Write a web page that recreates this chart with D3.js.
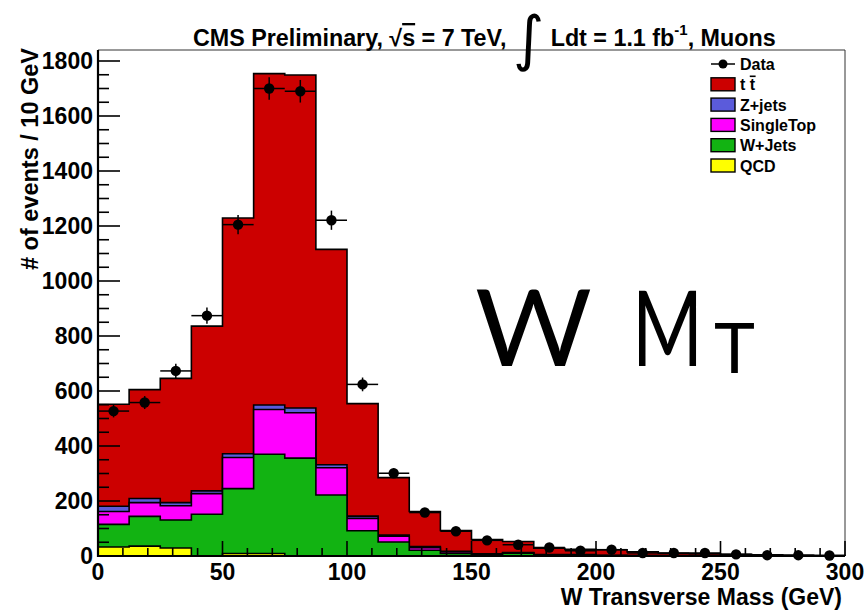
<!DOCTYPE html>
<html>
<head>
<meta charset="utf-8">
<script src="https://cdn.jsdelivr.net/npm/d3@7"></script>
<style>
  body { margin: 0; background: #fff; }
  svg { display: block; }
  text { font-family: "Liberation Sans", Arial, Helvetica, sans-serif; font-weight: bold; fill: #000; }
</style>
</head>
<body>
<svg id="chart" width="868" height="611"></svg>
<script>
// Bin edges of the W transverse mass histogram (GeV), 12.5 GeV bins
const binEdges = [0, 12.5, 25, 37.5, 50, 62.5, 75, 87.5, 100, 112.5, 125, 137.5, 150,
                  162.5, 175, 187.5, 200, 212.5, 225, 237.5, 250, 262.5, 275, 287.5, 300];

// Simulated contributions per bin (events / bin)
const qcd       = [33, 36, 29, 0, 9, 9, 0, 0, 0, 0, 0, 0, 0, 0, 0, 0, 0, 0, 0, 0, 0, 0, 0, 0];
const wJets     = [82, 108, 102, 152, 236, 361, 356, 222, 92, 51, 21, 9, 4, 10, 2, 2, 1, 1, 1, 1, 0, 0, 0, 0];
const singleTop = [47, 50, 52, 75, 113, 163, 165, 99, 45, 21, 9, 6, 3, 2, 2, 2, 1, 1, 1, 1, 1, 0, 0, 0];
const zJets     = [19, 15, 11, 10, 14, 16, 17, 11, 8, 4, 4, 2, 1, 1, 1, 1, 1, 0, 0, 0, 0, 0, 0, 0];
const ttbar     = [371, 396, 452, 599, 857, 1205, 1211, 783, 409, 209, 128, 76, 52, 40, 23, 19, 20, 13, 8, 6, 5, 4, 3, 2];

// Observed data per bin
const dataCounts = [527, 558, 673, 874, 1205, 1700, 1690, 1221, 624, 301, 158, 90, 57, 41, 31, 19, 23, 11, 11, 11, 6, 3, 3, 2];

// Axis ticks
const yMajorTicks = [0, 200, 400, 600, 800, 1000, 1200, 1400, 1600, 1800];
const xMajorTicks = [0, 50, 100, 150, 200, 250, 300];

// Stack order, bottom to top, with fill colours and legend labels
const stackKeys   = ["qcd", "wJets", "singleTop", "zJets", "ttbar"];
const stackColors = ["#ffff00", "#12b312", "#ff00ff", "#5b5bdb", "#cc0000"];
const legendLabels = ["Data", "t t", "Z+jets", "SingleTop", "W+Jets", "QCD"];

const svg = d3.select("#chart");
const frame = { left: 98, right: 845, top: 50, bottom: 556 };

const x = d3.scaleLinear().domain([0, 300]).range([frame.left, frame.right]);
const y = d3.scaleLinear().domain([0, 1840]).range([frame.bottom, frame.top]);

const rows = binEdges.slice(0, -1).map((lo, i) => ({
  lo, hi: binEdges[i + 1],
  qcd: qcd[i], wJets: wJets[i], singleTop: singleTop[i], zJets: zJets[i], ttbar: ttbar[i]
}));
const stacked = d3.stack().keys(stackKeys)(rows);

// Filled step histograms, drawn cumulatively from the total down to the bottom layer
const stepPoints = layer => {
  const pts = [{ gx: 0, v: 0 }];
  layer.forEach((d, i) => pts.push({ gx: rows[i].lo, v: d[1] }));
  pts.push({ gx: 300, v: layer[layer.length - 1][1] });
  pts.push({ gx: 300, v: 0 });
  return pts;
};
const area = d3.area().curve(d3.curveStepAfter).x(d => x(d.gx)).y0(y(0)).y1(d => y(d.v));
const line = d3.line().curve(d3.curveStepAfter).x(d => x(d.gx)).y(d => y(d.v));

const histG = svg.append("g");
for (let k = stacked.length - 1; k >= 0; k--) {
  const pts = stepPoints(stacked[k]);
  histG.append("path").attr("d", area(pts)).attr("fill", stackColors[k]);
  histG.append("path").attr("d", line(pts)).attr("fill", "none")
    .attr("stroke", "#000").attr("stroke-width", 1.6);
}

// Frame: thin top and right edges
svg.append("line").attr("x1", frame.left).attr("x2", frame.right)
  .attr("y1", frame.top).attr("y2", frame.top).attr("stroke", "#333").attr("stroke-width", 1);
svg.append("line").attr("x1", frame.right).attr("x2", frame.right)
  .attr("y1", frame.top).attr("y2", frame.bottom).attr("stroke", "#333").attr("stroke-width", 1);

// Inward ticks: y every 50 (major every 200), x every 10 (major every 50)
const tickG = svg.append("g").attr("stroke", "#000").attr("stroke-width", 1.6);
d3.range(0, 1801, 50).forEach(v => {
  const major = v % 200 === 0;
  tickG.append("line").attr("x1", frame.left).attr("x2", frame.left + (major ? 22 : 11))
    .attr("y1", y(v)).attr("y2", y(v));
});
d3.range(0, 301, 10).forEach(v => {
  const major = v % 50 === 0;
  tickG.append("line").attr("x1", x(v)).attr("x2", x(v))
    .attr("y1", frame.bottom).attr("y2", frame.bottom - (major ? 15 : 8));
});

// Axis lines
svg.append("line").attr("x1", frame.left).attr("x2", frame.left)
  .attr("y1", frame.top).attr("y2", frame.bottom + 1).attr("stroke", "#000").attr("stroke-width", 2.2);
svg.append("line").attr("x1", frame.left - 1).attr("x2", frame.right)
  .attr("y1", frame.bottom).attr("y2", frame.bottom).attr("stroke", "#000").attr("stroke-width", 2.2);

// Tick labels
svg.append("g").selectAll("text").data(yMajorTicks).join("text")
  .attr("x", 93).attr("y", d => y(d)).attr("dy", "0.36em")
  .attr("text-anchor", "end").attr("font-size", 23).text(d => d);
svg.append("g").selectAll("text").data(xMajorTicks).join("text")
  .attr("x", d => x(d)).attr("y", 580)
  .attr("text-anchor", "middle").attr("font-size", 23).text(d => d);

// Axis titles
svg.append("text").attr("x", frame.right - 3).attr("y", 605).attr("text-anchor", "end")
  .attr("font-size", 23).text("W Transverse Mass (GeV)");
svg.append("text").attr("transform", `translate(38,${frame.top - 2}) rotate(-90)`)
  .attr("text-anchor", "end").attr("font-size", 23.5).text("# of events / 10 GeV");

// Data points with statistical error bars
const dataG = svg.append("g");
dataCounts.forEach((n, i) => {
  const cx = x((binEdges[i] + binEdges[i + 1]) / 2);
  const err = Math.sqrt(n);
  dataG.append("line").attr("x1", x(binEdges[i])).attr("x2", x(binEdges[i + 1]))
    .attr("y1", y(n)).attr("y2", y(n)).attr("stroke", "#000").attr("stroke-width", 1.5);
  dataG.append("line").attr("x1", cx).attr("x2", cx)
    .attr("y1", y(n - err)).attr("y2", y(n + err)).attr("stroke", "#000").attr("stroke-width", 1.5);
  dataG.append("circle").attr("cx", cx).attr("cy", y(n)).attr("r", 5.2).attr("fill", "#000");
});

// Legend
const legG = svg.append("g");
const legX = 711, legY0 = 64, legStep = 20.3;
legG.append("line").attr("x1", legX).attr("x2", legX + 24).attr("y1", legY0).attr("y2", legY0)
  .attr("stroke", "#000").attr("stroke-width", 1.5);
legG.append("circle").attr("cx", legX + 12).attr("cy", legY0).attr("r", 4.5).attr("fill", "#000");
const legendColors = stackColors.slice().reverse();
legendLabels.forEach((lab, i) => {
  const cy = legY0 + i * legStep;
  if (i > 0) {
    legG.append("rect").attr("x", legX).attr("y", cy - 6.5).attr("width", 24).attr("height", 13)
      .attr("fill", legendColors[i - 1]).attr("stroke", "#000").attr("stroke-width", 1.4);
  }
  const t = legG.append("text").attr("x", 740).attr("y", cy + 6).attr("font-size", 16).text(lab);
  if (i === 1) {
    // overbar on the second t of t t-bar
    const n = t.node();
    const s = n.getStartPositionOfChar(2), e = n.getEndPositionOfChar(2);
    legG.append("line").attr("x1", s.x).attr("x2", e.x + 0.5)
      .attr("y1", cy - 8).attr("y2", cy - 8).attr("stroke", "#000").attr("stroke-width", 1.6);
  }
});

// Title
const title = svg.append("text").attr("x", 193).attr("y", 46).attr("font-size", 23.3);
title.append("tspan").text("CMS Preliminary, \u221A");
title.append("tspan").attr("text-decoration", "overline").text("s");
title.append("tspan").text(" = 7 TeV, ");
title.append("tspan").attr("font-size", 60).attr("font-weight", "normal")
  .attr("font-family", "DejaVu Sans").attr("dy", 13).text("\u222B");
title.append("tspan").attr("dy", -13).text(" Ldt = 1.1 fb");
title.append("tspan").attr("font-size", 15).attr("dy", -11).text("-1");
title.append("tspan").attr("dy", 11).text(", Muons");

// Large annotation: W M_T
const ann = svg.append("g").style("font-family", "Lato, sans-serif").style("font-weight", 400);
ann.append("text").attr("x", 475).attr("y", 366).attr("font-size", 106)
  .style("font-family", "Lato, sans-serif").style("font-weight", 400)
  .attr("textLength", 117).attr("lengthAdjust", "spacingAndGlyphs").text("W");
ann.append("text").attr("transform", "translate(632,366) scale(1,1.3)").attr("font-size", 81)
  .style("font-family", "Lato, sans-serif").style("font-weight", 400)
  .attr("textLength", 71).attr("lengthAdjust", "spacingAndGlyphs").text("M");
ann.append("text").attr("x", 714).attr("y", 373).attr("font-size", 70)
  .style("font-family", "Lato, sans-serif").style("font-weight", 400)
  .attr("textLength", 41).attr("lengthAdjust", "spacingAndGlyphs").text("T");
</script>
</body>
</html>
